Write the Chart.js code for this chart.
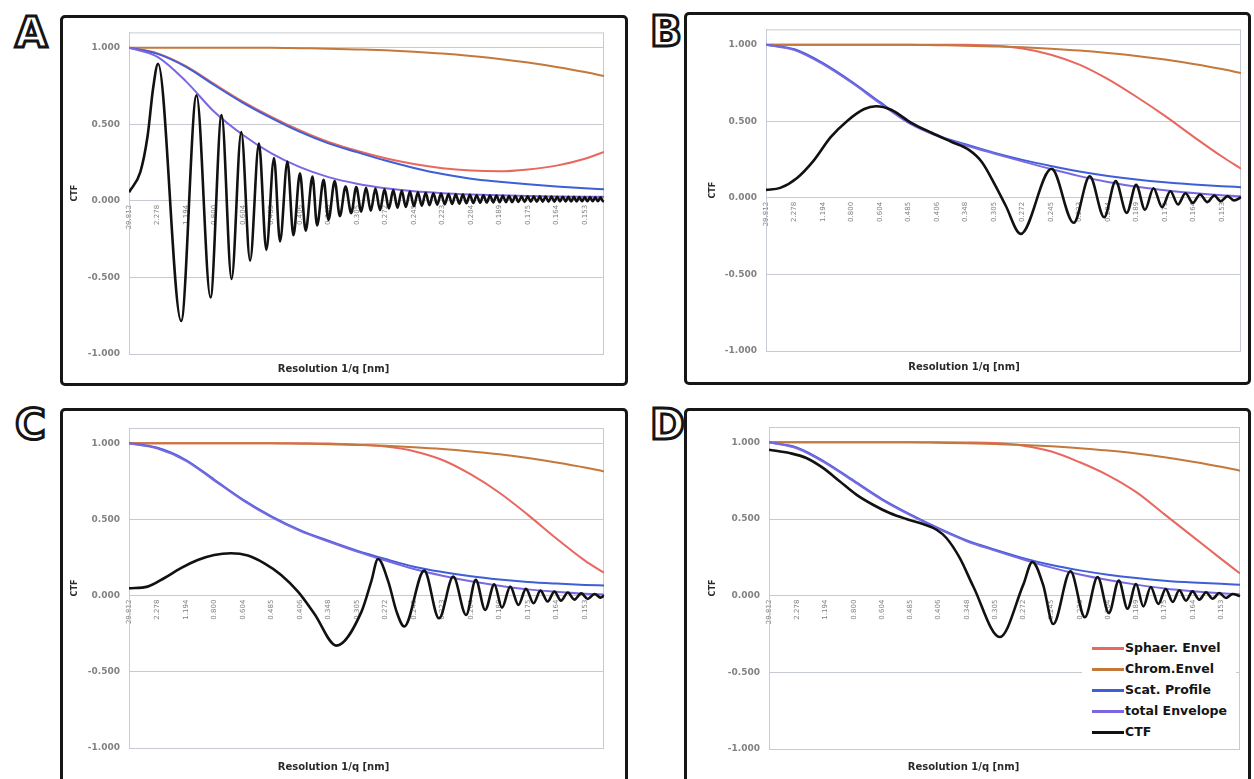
<!DOCTYPE html>
<html lang="en">
<head>
<meta charset="UTF-8">
<title>CTF and envelope functions</title>
<script src="https://cdn.jsdelivr.net/npm/chart.js"></script>
<style>
  body { margin: 0; background: #fff; width: 1254px; height: 779px; overflow: hidden; position: relative; font-family: "DejaVu Sans", Verdana, sans-serif; }
  .panel { position: absolute; box-sizing: border-box; border: 3px solid #161616; border-radius: 5px; background: #fff; overflow: hidden; }
  .panel canvas { position: absolute; left: 0; top: 0; }
  .letter { position: absolute; font: bold 42px "DejaVu Sans", sans-serif; line-height: 42px; color: #fff; -webkit-text-stroke: 3px #151515; }
  #legend { position: absolute; left: 1082px; top: 638px; width: 154px; height: 107px; background: #fff; }
  #legend .row { position: absolute; left: 0; height: 21px; width: 154px; }
  #legend .swatch { position: absolute; left: 10px; top: 9px; width: 32px; height: 3px; }
  #legend .txt { position: absolute; left: 43px; top: 2px; font: bold 12.5px "DejaVu Sans", sans-serif; color: #151515; white-space: nowrap; }
</style>
</head>
<body>
<div class="letter" style="left:15px;top:12px">A</div>
<div class="letter" style="left:650px;top:11px">B</div>
<div class="letter" style="left:15px;top:404px">C</div>
<div class="letter" style="left:650px;top:404px">D</div>

<div class="panel" style="left:60px;top:15px;width:568px;height:371px"><canvas id="chartA" width="562" height="365"></canvas></div>
<div class="panel" style="left:684px;top:12px;width:567px;height:373px"><canvas id="chartB" width="561" height="367"></canvas></div>
<div class="panel" style="left:60px;top:408px;width:568px;height:377px"><canvas id="chartC" width="562" height="371"></canvas></div>
<div class="panel" style="left:684px;top:408px;width:567px;height:377px"><canvas id="chartD" width="561" height="371"></canvas></div>
<div id="legend"></div>

<script>
// x axis: category positions 0..16 carry the resolution labels (1/q in nm)
const tickLabels = ['29.812', '2.278', '1.194', '0.800', '0.604', '0.485', '0.406', '0.348', '0.305',
                    '0.272', '0.245', '0.223', '0.204', '0.189', '0.175', '0.164', '0.153'];
const yTicks = [-1, -0.5, 0, 0.5, 1];

// envelope curves, sampled at the label positions plus the right edge
const envX = [0, 1, 2, 3, 4, 5, 6, 7, 8, 9, 10, 11, 12, 13, 14, 15, 16, 16.67];
const chromEnv = [1, 1, 1, 1, 1, 1, 0.997, 0.994, 0.989, 0.983, 0.974, 0.962, 0.946, 0.927, 0.903, 0.874, 0.841, 0.815];

const sphA  = [1, 0.963, 0.88, 0.762, 0.648, 0.548, 0.46, 0.385, 0.327, 0.278, 0.24, 0.213, 0.198, 0.193, 0.205, 0.23, 0.275, 0.32];
const scatA = [1, 0.96, 0.875, 0.755, 0.64, 0.54, 0.45, 0.375, 0.318, 0.263, 0.215, 0.175, 0.145, 0.125, 0.108, 0.094, 0.082, 0.075];
const totA  = [1, 0.94, 0.78, 0.58, 0.43, 0.31, 0.22, 0.155, 0.112, 0.082, 0.062, 0.05, 0.042, 0.036, 0.032, 0.029, 0.027, 0.026];

const sphB  = [1, 1, 1, 1, 1, 1, 1, 0.999, 0.993, 0.975, 0.935, 0.87, 0.775, 0.66, 0.535, 0.4, 0.27, 0.19];
const scatB = [1, 0.97, 0.88, 0.76, 0.625, 0.495, 0.41, 0.35, 0.295, 0.248, 0.208, 0.172, 0.143, 0.12, 0.102, 0.088, 0.076, 0.07];
const totB  = [1, 0.965, 0.873, 0.753, 0.618, 0.49, 0.405, 0.344, 0.29, 0.238, 0.188, 0.142, 0.103, 0.072, 0.05, 0.031, 0.017, 0.011];

const sphC  = [1, 1, 1, 1, 1, 1, 1, 0.998, 0.99, 0.978, 0.948, 0.89, 0.795, 0.675, 0.53, 0.375, 0.23, 0.15];
const scatC = [1, 0.97, 0.89, 0.76, 0.63, 0.52, 0.43, 0.36, 0.295, 0.24, 0.19, 0.155, 0.127, 0.106, 0.09, 0.079, 0.07, 0.066];
const totC  = [1, 0.965, 0.885, 0.755, 0.625, 0.515, 0.425, 0.355, 0.289, 0.23, 0.175, 0.131, 0.094, 0.065, 0.041, 0.025, 0.012, 0.008];

const sphD  = [1, 1, 1, 1, 1, 1, 1, 0.999, 0.995, 0.978, 0.94, 0.87, 0.785, 0.675, 0.53, 0.385, 0.24, 0.145];
const scatD = [1, 0.965, 0.87, 0.75, 0.63, 0.53, 0.44, 0.36, 0.3, 0.245, 0.2, 0.165, 0.137, 0.115, 0.098, 0.086, 0.077, 0.072];
const totD  = [1, 0.96, 0.865, 0.745, 0.625, 0.525, 0.435, 0.355, 0.294, 0.236, 0.183, 0.138, 0.102, 0.072, 0.047, 0.029, 0.0155, 0.0085];

// CTF curves: turning points
const ctfAx = [0, 0.4, 0.65, 0.85, 1.02, 1.83, 2.37, 2.86, 3.25, 3.6, 3.94, 4.25, 4.56, 4.82, 5.09, 5.3, 5.56, 5.77, 6.0, 6.2,
  6.44, 6.6, 6.83, 7.0, 7.22, 7.4, 7.6, 7.8, 7.975, 8.149, 8.319, 8.485, 8.649, 8.809, 8.967, 9.121, 9.274, 9.423,
  9.571, 9.716, 9.859, 10.0, 10.139, 10.276, 10.412, 10.545, 10.682, 10.817, 10.95, 11.082, 11.212, 11.34, 11.467,
  11.593, 11.718, 11.841, 11.962, 12.083, 12.202, 12.321, 12.438, 12.554, 12.669, 12.783, 12.896, 13.008, 13.119,
  13.229, 13.338, 13.446, 13.557, 13.667, 13.777, 13.885, 13.993, 14.1, 14.206, 14.311, 14.415, 14.519, 14.622,
  14.724, 14.826, 14.926, 15.027, 15.126, 15.225, 15.323, 15.421, 15.518, 15.614, 15.71, 15.805, 15.9, 15.994,
  16.087, 16.18, 16.273, 16.365, 16.456, 16.547, 16.637, 16.67];
const ctfAy = [0.056, 0.19, 0.42, 0.74, 0.895, -0.785, 0.69, -0.63, 0.56, -0.51, 0.45, -0.39, 0.375, -0.32, 0.28, -0.265,
  0.256, -0.225, 0.18, -0.195, 0.158, -0.16, 0.137, -0.125, 0.13, -0.1, 0.093, -0.08, 0.09, -0.07, 0.085, -0.065,
  0.08, -0.06, 0.075, -0.05, 0.07, -0.045, 0.065, -0.04, 0.06, -0.035, 0.056, -0.032, 0.053, -0.028, 0.05, -0.025,
  0.047, -0.022, 0.045, -0.02, 0.043, -0.018, 0.041, -0.016, 0.039, -0.014, 0.037, -0.012, 0.036, -0.011, 0.035,
  -0.01, 0.034, -0.009, 0.033, -0.008, 0.032, -0.008, 0.031, -0.007, 0.03, -0.007, 0.03, -0.006, 0.029, -0.006,
  0.029, -0.005, 0.028, -0.005, 0.028, -0.005, 0.027, -0.004, 0.027, -0.004, 0.026, -0.004, 0.026, -0.004, 0.025,
  -0.003, 0.025, -0.003, 0.025, -0.003, 0.024, -0.003, 0.024, -0.003, 0];

const ctfBx = [0, 0.5, 1.09, 1.68, 2.27, 2.86, 3.45, 3.86, 4.39, 5.1, 5.81, 6.52, 7.11, 7.58, 8.05, 8.41, 8.94, 10.02,
  10.8, 11.36, 11.87, 12.27, 12.66, 12.99, 13.3, 13.6, 13.9, 14.19, 14.46, 14.72, 14.98, 15.23, 15.49, 15.73, 15.96,
  16.2, 16.43, 16.67];
const ctfBy = [0.052, 0.065, 0.13, 0.245, 0.396, 0.504, 0.58, 0.598, 0.575, 0.49, 0.425, 0.365, 0.315, 0.233, 0.08,
  -0.05, -0.235, 0.19, -0.163, 0.141, -0.126, 0.109, -0.098, 0.085, -0.078, 0.063, -0.061, 0.043, -0.043, 0.03,
  -0.033, 0.022, -0.028, 0.015, -0.022, 0.011, -0.017, 0.004];

const ctfCx = [0, 0.65, 1.23, 1.82, 2.41, 2.99, 3.58, 4.17, 4.75, 5.34, 5.93, 6.51, 7.28, 8.16, 8.5, 8.74,
  9.1, 9.39, 9.66, 10.36, 10.88, 11.38, 11.83, 12.17, 12.5, 12.82, 13.09, 13.38, 13.67, 13.93, 14.2, 14.44,
  14.69, 14.93, 15.16, 15.4, 15.63, 15.87, 16.1, 16.34, 16.55, 16.67];
const ctfCy = [0.048, 0.059, 0.114, 0.18, 0.234, 0.267, 0.278, 0.263, 0.212, 0.136, 0.026, -0.12, -0.328,
  -0.105, 0.092, 0.24, 0.092, -0.105, -0.203, 0.164, -0.149, 0.125, -0.127, 0.103, -0.094, 0.074,
  -0.079, 0.059, -0.061, 0.044, -0.05, 0.033, -0.039, 0.026, -0.033, 0.02, -0.026, 0.015, -0.022, 0.011, -0.013, 0];

const ctfDx = [0, 0.73, 1.32, 1.91, 2.5, 3.09, 3.68, 4.27, 4.86, 5.45, 5.93, 6.28, 6.75, 7.23, 8.17, 9.0,
  9.32, 9.7, 10.06, 10.67, 11.18, 11.63, 12.03, 12.38, 12.69, 12.99, 13.25, 13.51, 13.78, 14.04, 14.29, 14.52,
  14.76, 14.99, 15.23, 15.47, 15.7, 15.94, 16.17, 16.41, 16.67];
const ctfDy = [0.952, 0.93, 0.898, 0.833, 0.746, 0.659, 0.593, 0.539, 0.5, 0.467, 0.43, 0.376, 0.246, 0.06,
  -0.27, 0.072, 0.22, 0.072, -0.185, 0.159, -0.141, 0.122, -0.113, 0.098, -0.085, 0.076, -0.07, 0.057,
  -0.054, 0.043, -0.041, 0.035, -0.033, 0.028, -0.026, 0.022, -0.02, 0.017, -0.015, 0.011, -0.004];

const seriesNames = ['Sphaer. Envel', 'Chrom.Envel', 'Scat. Profile', 'total Envelope', 'CTF'];
const seriesColors = ['#e8675f', '#c4783a', '#3e5fd6', '#7a68e2', '#111111'];

const GRID = '#c6cad1';
const TICK = '#828282';
Chart.defaults.font.family = '"DejaVu Sans", Verdana, sans-serif';

function pts(xs, ys) {
  return xs.map((x, i) => ({ x: x, y: ys[i] }));
}

// light frame round the plot area, like the spreadsheet plot box
const plotFrame = {
  id: 'plotFrame',
  beforeDatasetsDraw(chart) {
    const a = chart.chartArea;
    const ctx = chart.ctx;
    ctx.save();
    ctx.strokeStyle = GRID;
    ctx.lineWidth = 1;
    ctx.strokeRect(a.left + 0.5, a.top + 0.5, a.right - a.left - 1, a.bottom - a.top);
    ctx.restore();
  }
};

function makePanel(p) {
  const curves = [p.sph, chromEnv, p.scat, p.tot];
  const datasets = curves.map((c, i) => ({
    label: seriesNames[i], data: pts(envX, c), borderColor: seriesColors[i], borderWidth: 2, order: 4 - i
  }));
  datasets.push({ label: 'CTF', data: pts(p.ctfX, p.ctfY), borderColor: seriesColors[4], borderWidth: 2.6, order: 0 });

  return new Chart(document.getElementById(p.id), {
    type: 'line',
    data: { datasets: datasets },
    options: {
      responsive: false,
      animation: false,
      elements: {
        point: { radius: 0 },
        line: { cubicInterpolationMode: 'monotone', fill: false }
      },
      layout: { padding: { left: 0, right: p.pr, top: p.pt, bottom: 0 } },
      plugins: {
        legend: { display: false },
        tooltip: { enabled: false },
        title: {
          display: true, position: 'bottom', text: 'Resolution 1/q [nm]',
          color: '#2a2a2a', font: { size: 10, weight: 'bold' },
          padding: { top: p.tTop, bottom: p.tBot }
        }
      },
      scales: {
        x: {
          type: 'linear', min: 0, max: 16.67,
          position: { y: 0 },
          grid: { display: false, drawTicks: false },
          border: { display: true, color: GRID },
          afterBuildTicks: s => { s.ticks = tickLabels.map((_, i) => ({ value: i })); },
          ticks: {
            autoSkip: false, minRotation: 90, maxRotation: 90, padding: 4,
            color: TICK, font: { size: 7 },
            callback: v => tickLabels[v]
          }
        },
        y: {
          min: -1, max: 1.1,
          afterBuildTicks: s => { s.ticks = yTicks.map(v => ({ value: v })); },
          afterFit: s => { s.width = p.yw; },
          grid: { color: GRID, drawTicks: false },
          border: { color: GRID },
          ticks: { padding: 9, color: TICK, font: { size: 9, weight: 'bold' }, callback: v => v.toFixed(3) },
          title: { display: true, text: 'CTF', color: '#2a2a2a', font: { size: 8, weight: 'bold' }, padding: { top: p.ctfPad, bottom: 0 } }
        }
      }
    },
    plugins: [plotFrame]
  });
}

const panels = [
  { id: 'chartA', sph: sphA, scat: scatA, tot: totA, ctfX: ctfAx, ctfY: ctfAy, yw: 66, pr: 21, pt: 12, tTop: 9, tBot: 8, ctfPad: 7 },
  { id: 'chartB', sph: sphB, scat: scatB, tot: totB, ctfX: ctfBx, ctfY: ctfBy, yw: 79, pr: 7, pt: 14, tTop: 10, tBot: 9, ctfPad: 21 },
  { id: 'chartC', sph: sphC, scat: scatC, tot: totC, ctfX: ctfCx, ctfY: ctfCy, yw: 66, pr: 21, pt: 17, tTop: 13, tBot: 9, ctfPad: 7 },
  { id: 'chartD', sph: sphD, scat: scatD, tot: totD, ctfX: ctfDx, ctfY: ctfDy, yw: 82, pr: 8, pt: 16, tTop: 12, tBot: 9, ctfPad: 21 }
];
const charts = panels.map(makePanel);

// legend for panel D, built from that chart's datasets
const legendBox = document.getElementById('legend');
charts[3].data.datasets.forEach((ds, i) => {
  const row = document.createElement('div');
  row.className = 'row';
  row.style.top = (i * 21) + 'px';
  row.innerHTML = '<span class="swatch" style="background:' + ds.borderColor + '"></span><span class="txt">' + ds.label + '</span>';
  legendBox.appendChild(row);
});
</script>
</body>
</html>
